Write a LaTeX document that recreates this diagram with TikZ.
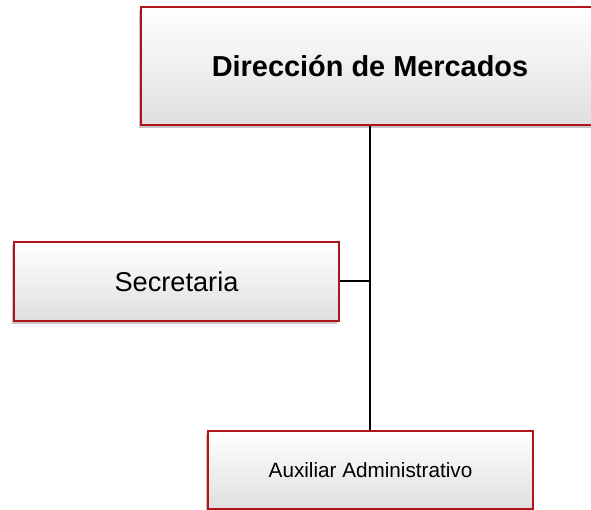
\documentclass[tikz,border=0pt]{standalone}
\usepackage{fontspec}
\setmainfont{Liberation Sans}
\usetikzlibrary{positioning,shadows}
\definecolor{boxred}{RGB}{175,20,25}

\tikzset{
  orgbox/.style={draw=boxred, line width=1.3pt, top color=white, bottom color=gray!25,
    drop shadow={shadow xshift=-2.5pt, shadow yshift=-3pt, opacity=0.45},
    inner sep=0pt, align=center},
  orgline/.style={line width=2pt, black}
}

\begin{document}
\begin{tikzpicture}[x=1pt, y=1pt]
\useasboundingbox (0,0) rectangle (591,-510);
\clip (0,0) rectangle (591,-510);

\node[orgbox, minimum width=458pt, minimum height=118pt] (dir) at (370,-66)
  {\fontsize{28.9}{34}\selectfont\bfseries Dirección de Mercados};
\node[orgbox, minimum width=325pt, minimum height=79pt] (sec) at (176.5,-281.5)
  {\fontsize{27.2}{32}\selectfont Secretaria};
\node[orgbox, minimum width=325pt, minimum height=78pt] (aux) at (370.5,-470)
  {\fontsize{20.7}{25}\selectfont Auxiliar Administrativo};

\draw[orgline] (dir.south) -- (dir.south |- aux.north);
\draw[orgline] (sec.east) -- (sec.east -| dir.south);
\end{tikzpicture}
\end{document}
